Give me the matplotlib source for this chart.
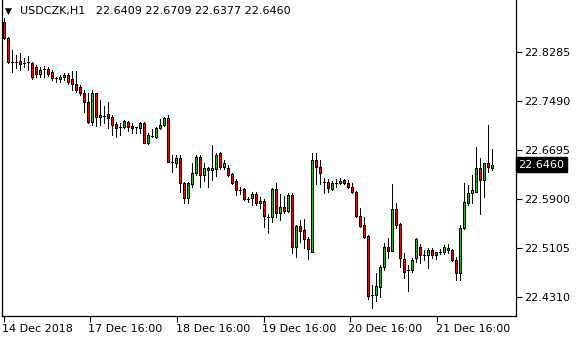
import matplotlib
matplotlib.use("Agg")
import matplotlib.pyplot as plt
import matplotlib.transforms as mtransforms
import numpy as np

# USDCZK H1 bars
opens = [22.8772, 22.8512, 22.8123, 22.8123, 22.8139, 22.8106, 22.8123, 22.8106, 22.8042, 22.7928,
         22.8009, 22.8009, 22.7960, 22.7863, 22.7847, 22.7879, 22.7912, 22.7847, 22.7766, 22.7717,
         22.7620, 22.7474, 22.7149, 22.7620, 22.7230, 22.7247, 22.7279, 22.7230, 22.7117, 22.7068,
         22.7068, 22.7149, 22.7084, 22.7068, 22.7052, 22.7133, 22.6809, 22.6922, 22.6906, 22.7052,
         22.7101, 22.7214, 22.6500, 22.6484, 22.6565, 22.6160, 22.5916, 22.6143, 22.6322, 22.6581,
         22.6289, 22.6403, 22.6371, 22.6387, 22.6646, 22.6419, 22.6403, 22.6306, 22.6192, 22.6046,
         22.6062, 22.5900, 22.5916, 22.5981, 22.5835, 22.5868, 22.5608, 22.5608, 22.6062, 22.5673,
         22.5770, 22.5705, 22.5965, 22.5121, 22.5462, 22.5397, 22.5251, 22.5040, 22.6533, 22.6419,
         22.6176, 22.6176, 22.6062, 22.6160, 22.6160, 22.6208, 22.6160, 22.6095, 22.6014, 22.5624,
         22.5478, 22.5300, 22.4343, 22.4343, 22.4472, 22.4797, 22.5121, 22.5056, 22.5738, 22.5494,
         22.4927, 22.4748, 22.4748, 22.4943, 22.5121, 22.4991, 22.4991, 22.5073, 22.4991, 22.5040,
         22.5040, 22.5105, 22.5073, 22.4910, 22.4699, 22.5430, 22.5835, 22.5997, 22.6014, 22.6403,
         22.6208, 22.6484, 22.6409]
highs = [22.8837, 22.8528, 22.8317, 22.8236, 22.8269, 22.8188, 22.8220, 22.8123, 22.8074, 22.8042,
         22.8058, 22.8042, 22.7993, 22.7879, 22.7912, 22.7944, 22.7944, 22.7977, 22.7977, 22.7750,
         22.7668, 22.7620, 22.7668, 22.7625, 22.7506, 22.7409, 22.7474, 22.7263, 22.7149, 22.7133,
         22.7182, 22.7166, 22.7133, 22.7072, 22.7149, 22.7149, 22.6971, 22.7036, 22.7068, 22.7198,
         22.7230, 22.7263, 22.6614, 22.6614, 22.6614, 22.6176, 22.6176, 22.6484, 22.6614, 22.6614,
         22.6484, 22.6419, 22.6776, 22.6646, 22.6663, 22.6533, 22.6452, 22.6322, 22.6224, 22.6095,
         22.6079, 22.5932, 22.6014, 22.6014, 22.5932, 22.5900, 22.5657, 22.6079, 22.6160, 22.5981,
         22.5949, 22.5997, 22.5997, 22.5478, 22.5559, 22.5576, 22.5284, 22.6646, 22.6646, 22.6533,
         22.6241, 22.6224, 22.6192, 22.6224, 22.6241, 22.6224, 22.6208, 22.6160, 22.6030, 22.5754,
         22.5608, 22.5316, 22.4505, 22.4699, 22.4829, 22.5186, 22.5267, 22.6143, 22.5835, 22.5511,
         22.5024, 22.4829, 22.4943, 22.5267, 22.5170, 22.5073, 22.5105, 22.5105, 22.5045, 22.5089,
         22.5154, 22.5170, 22.5089, 22.4959, 22.5478, 22.6160, 22.6127, 22.6289, 22.6744, 22.6565,
         22.6484, 22.7101, 22.6709]
lows = [22.8496, 22.8106, 22.7960, 22.8025, 22.7993, 22.8042, 22.7993, 22.7847, 22.7879, 22.7879,
        22.7879, 22.7896, 22.7831, 22.7798, 22.7798, 22.7831, 22.7766, 22.7668, 22.7636, 22.7587,
        22.7312, 22.7133, 22.7101, 22.7084, 22.7101, 22.7133, 22.7052, 22.6938, 22.6906, 22.6938,
        22.7052, 22.7003, 22.6971, 22.6971, 22.6971, 22.6805, 22.6792, 22.6906, 22.6890, 22.7036,
        22.7084, 22.6496, 22.6338, 22.6419, 22.6014, 22.5835, 22.5835, 22.6095, 22.6289, 22.6095,
        22.6192, 22.6095, 22.6208, 22.6273, 22.6387, 22.6387, 22.6273, 22.6143, 22.5965, 22.5981,
        22.5884, 22.5851, 22.5803, 22.5803, 22.5754, 22.5446, 22.5348, 22.5527, 22.5608, 22.5559,
        22.5673, 22.5689, 22.5024, 22.4959, 22.5202, 22.5105, 22.4927, 22.5035, 22.6143, 22.6143,
        22.5997, 22.6014, 22.6046, 22.6095, 22.6143, 22.6143, 22.6079, 22.5997, 22.5608, 22.5446,
        22.5267, 22.4278, 22.4132, 22.4245, 22.4310, 22.4748, 22.4943, 22.5052, 22.5430, 22.4797,
        22.4618, 22.4407, 22.4716, 22.4878, 22.4862, 22.4910, 22.4781, 22.4943, 22.4927, 22.5008,
        22.5008, 22.5024, 22.4894, 22.4586, 22.4586, 22.5413, 22.5803, 22.5835, 22.6010, 22.5657,
        22.5932, 22.6338, 22.6377]
closes = [22.8512, 22.8123, 22.8119, 22.8120, 22.8090, 22.8104, 22.8120, 22.7879, 22.7928, 22.7993,
          22.8006, 22.7928, 22.7863, 22.7861, 22.7879, 22.7912, 22.7798, 22.7766, 22.7668, 22.7620,
          22.7474, 22.7149, 22.7620, 22.7230, 22.7263, 22.7245, 22.7214, 22.7101, 22.7052, 22.7066,
          22.7166, 22.7068, 22.7052, 22.7066, 22.7133, 22.6809, 22.6938, 22.6920, 22.7052, 22.7101,
          22.7214, 22.6500, 22.6498, 22.6565, 22.6160, 22.5916, 22.6160, 22.6322, 22.6581, 22.6289,
          22.6403, 22.6371, 22.6403, 22.6614, 22.6419, 22.6484, 22.6289, 22.6160, 22.6046, 22.6044,
          22.5900, 22.5898, 22.5981, 22.5835, 22.5868, 22.5624, 22.5606, 22.6062, 22.5673, 22.5770,
          22.5705, 22.5965, 22.5121, 22.5462, 22.5381, 22.5251, 22.5089, 22.6533, 22.6419, 22.6322,
          22.6174, 22.6079, 22.6160, 22.6158, 22.6192, 22.6160, 22.6095, 22.6014, 22.5624, 22.5462,
          22.5284, 22.4326, 22.4340, 22.4489, 22.4797, 22.5121, 22.5056, 22.5738, 22.5478, 22.4943,
          22.4716, 22.4746, 22.4910, 22.5251, 22.4991, 22.4989, 22.5073, 22.4991, 22.5040, 22.5038,
          22.5121, 22.5073, 22.4910, 22.4699, 22.5430, 22.5851, 22.5997, 22.6046, 22.6403, 22.6208,
          22.6484, 22.6419, 22.6460]

price_ticks = [22.8285, 22.7490, 22.6695, 22.5900, 22.5105, 22.4310]
time_labels = ["14 Dec 2018", "17 Dec 16:00", "18 Dec 16:00", "19 Dec 16:00", "20 Dec 16:00", "21 Dec 16:00"]
time_label_bars = [0, 21.5, 43.25, 65, 86.5, 108.25]

o = np.array(opens)
h = np.array(highs)
l = np.array(lows)
c = np.array(closes)
x = np.arange(len(o))

W, H = 580, 340
fig = plt.figure(figsize=(W / 100, H / 100), dpi=100)
ax = fig.add_axes([2 / W, (H - 316) / H, 514 / W, 316 / H])

# wicks
ax.vlines(x, l, h, color="black", linewidth=0.72, antialiased=False, zorder=1)
# bodies: 1px colour with 1px black frame, like the terminal draws them
up = c >= o
body_col = np.where(up, "#2cb42c", "#dc0a0a")
ax.bar(x, c - o, bottom=o, width=0.5, color=body_col, edgecolor="black",
       linewidth=0.72, antialiased=False, zorder=2)

ax.set_xlim(-0.375, 128.125)
ax.set_ylim(22.4002, 22.9129)

ax.spines["top"].set_visible(False)
for s in ["left", "right", "bottom"]:
    ax.spines[s].set_linewidth(0.9)

ax.yaxis.tick_right()
ax.set_yticks(price_ticks)
ax.set_yticklabels([f"{v:.4f}" for v in price_ticks])
ax.tick_params(axis="y", direction="out", length=4, width=0.8, pad=2, labelsize=8)

ax.set_xticks(time_label_bars)
ax.set_xticklabels(time_labels, ha="left")
ax.tick_params(axis="x", direction="out", length=4, width=0.8, pad=2, labelsize=8)
for lab in ax.get_xticklabels():
    lab.set_transform(lab.get_transform() + mtransforms.ScaledTranslation(-1 / 100, 0, fig.dpi_scale_trans))

# current price tag
tr = mtransforms.blended_transform_factory(ax.transAxes, ax.transData)
ax.text(1.004, c[-1], f"{c[-1]:.4f}", transform=tr, color="white", fontsize=8,
        va="center", ha="left",
        bbox=dict(boxstyle="square,pad=0.22", facecolor="black", edgecolor="black"))

# header
fig.text(5 / W, 1 - 11 / H, "\u25bc", fontsize=6.5, va="center", ha="left", color="black")
fig.text(20 / W, 1 - 11 / H,
         f"USDCZK,H1   {o[-1]:.4f} {h[-1]:.4f} {l[-1]:.4f} {c[-1]:.4f}",
         fontsize=8, va="center", ha="left", color="black")

fig.savefig("out.png", dpi=100)
